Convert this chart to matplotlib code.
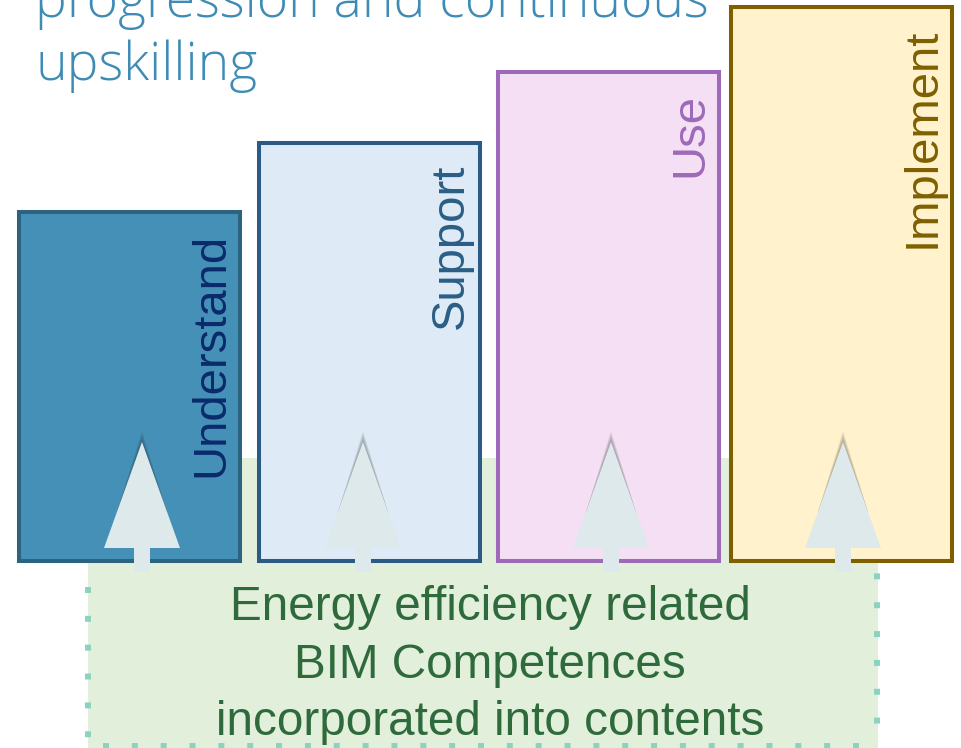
import matplotlib.pyplot as plt
from matplotlib.patches import Polygon, Rectangle

# competence levels, each bar taller than the previous one
levels = ['Understand', 'Support', 'Use', 'Implement']
heights = [349, 418, 489, 554]

title_lines = ['progression and continuous', 'upskilling']
box_lines = ['Energy efficiency related', 'BIM Competences', 'incorporated into contents']

# styling / layout (pixel units of a 961x748 canvas, y pointing up)
bar_left = [19, 259, 498, 731]
bar_width = 221
base = 187
fills = ['#4590b7', '#deeaf6', '#f4dff4', '#fff2cc']
edges = ['#2b6381', '#2b5a84', '#9d6ab9', '#7f6000']
label_colors = ['#0b2a6b', '#2b5e85', '#9d6ab9', '#7f6000']
arrow_x = [142, 363, 611, 843]

fig = plt.figure(figsize=(9.61, 7.48), dpi=100)
ax = fig.add_axes([0, 0, 1, 1])
ax.set_xlim(0, 961)
ax.set_ylim(0, 748)
ax.axis('off')

# green box behind the bars
ax.add_patch(Rectangle((88, -10), 790, 300, facecolor='#e2efda', edgecolor='none', zorder=1))
dots = dict(color='#8ad4bf', lw=4.3, solid_capstyle='butt', dash_capstyle='butt',
            linestyle=(0, (1, 3.83)), zorder=2)
ax.plot([88, 88], [161, 2], **dots)
ax.plot([877, 877], [290, 2], **dots)
ax.plot([103, 877], [2, 2], **dots)

bars = ax.bar(bar_left, heights, width=bar_width, bottom=base, align='edge',
              color=fills, edgecolor=edges, linewidth=2.9, zorder=3)
for bar, name, c in zip(bars, levels, label_colors):
    ax.text(bar.get_x() + bar.get_width() - 7, bar.get_y() + bar.get_height() - 21, name,
            rotation=90, ha='right', va='top', fontsize=34, color=c,
            family='Liberation Sans', zorder=5)

# upward arrows, with a soft shadow around the tip
for x in arrow_x:
    tip, head, foot = 306, 200, 176
    low = tip - 70
    half = 38 * 70 / (tip - head)
    for k in range(1, 10):
        shade = [(x, tip + 1.3 * k), (x - half, low), (x + half, low)]
        ax.add_patch(Polygon(shade, closed=True, facecolor='#222222', alpha=0.045,
                             edgecolor='none', zorder=4))
    pts = [(x - 8, foot), (x - 8, head), (x - 38, head), (x, tip),
           (x + 38, head), (x + 8, head), (x + 8, foot)]
    ax.add_patch(Polygon(pts, closed=True, facecolor='#dde9ea', edgecolor='none', zorder=4.5))

for i, line in enumerate(box_lines):
    ax.text(490, 128 - i * 57.5, line, ha='center', va='baseline', fontsize=34.3,
            color='#2e6a3c', family='Liberation Sans', zorder=6)

for i, line in enumerate(title_lines):
    ax.text(35, 731 - i * 63, line, ha='left', va='baseline', fontsize=38.5,
            color='#3e8bb5', family='Open Sans', fontweight='light', zorder=6)

fig.savefig('out.png', dpi=100)
